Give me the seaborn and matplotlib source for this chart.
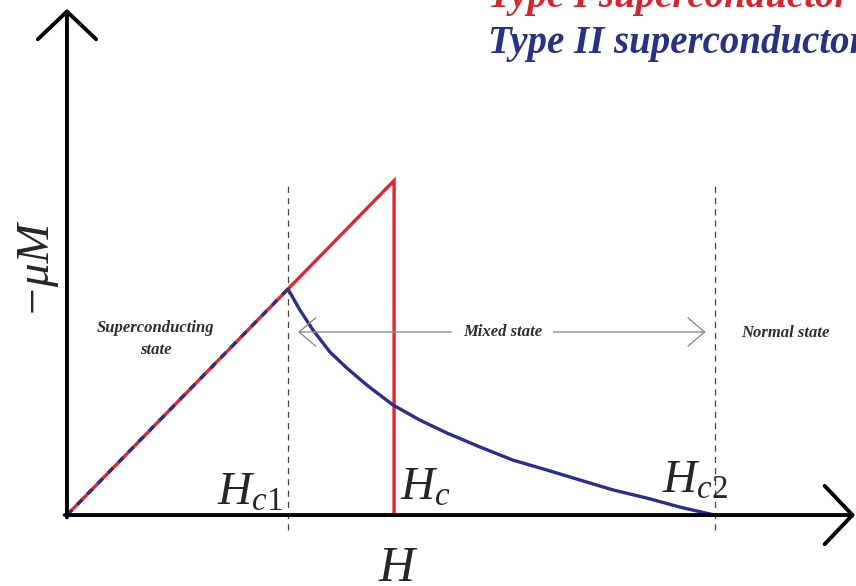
import numpy as np
import pandas as pd
import matplotlib.pyplot as plt
import seaborn as sns

# field values in units of Hc1, magnetisation -muM in units of its value at Hc1
hc1 = 1.0
hc = 1.48
hc2 = 2.93

# type I: linear rise up to Hc, then drops to zero
type1_h = [0.0, hc, hc]
type1_m = [0.0, 1.48, 0.0]

# type II: linear rise to Hc1, then decays to zero at Hc2
type2_h = [0.0, 1.0, 1.054, 1.113, 1.190, 1.267, 1.357, 1.475, 1.597, 1.719,
           1.869, 2.018, 2.172, 2.321, 2.471, 2.624, 2.774, 2.93]
type2_m = [0.0, 1.0, 0.907, 0.819, 0.721, 0.650, 0.575, 0.487, 0.420, 0.363,
           0.301, 0.243, 0.199, 0.155, 0.111, 0.075, 0.035, 0.0]

red = '#e3262d'
blue = '#2a2f8c'

sns.set_style('white')
plt.rcParams['font.family'] = ['Liberation Serif', 'DejaVu Serif']
plt.rcParams['mathtext.fontset'] = 'custom'
plt.rcParams['mathtext.it'] = 'Liberation Serif:italic'
plt.rcParams['mathtext.rm'] = 'Liberation Serif'

fig = plt.figure(figsize=(8.56, 5.86), dpi=100)
ax = fig.add_axes([0, 0, 1, 1])
ax.set_xlim(-0.303, 3.570)
ax.set_ylim(-0.314, 2.279)
ax.axis('off')

df1 = pd.DataFrame({'H': type1_h, 'M': type1_m})
df2 = pd.DataFrame({'H': type2_h, 'M': type2_m})

# type I curve (red, solid)
sns.lineplot(data=df1, x='H', y='M', sort=False, color=red, lw=2.4, ax=ax,
             estimator=None, solid_joinstyle='miter')
# type II curve (blue); the shared Meissner segment is dashed on top of red
sns.lineplot(data=df2.iloc[1:], x='H', y='M', sort=False, color=blue, lw=2.4,
             ax=ax, estimator=None, solid_joinstyle='round')
ax.plot(df2['H'][:2], df2['M'][:2], color=blue, lw=2.4, dashes=(2.2, 2.2))

# critical field guides
for xv in [hc1, hc2]:
    ax.plot([xv, xv], [-0.066, 1.46], color='#444444', lw=0.9, dashes=(5, 4))

# axes with open arrowheads
head = dict(arrowstyle='->,head_length=1.0,head_width=1.05', lw=2.8,
            color='black', mutation_scale=20, shrinkA=0, shrinkB=0)
ax.annotate('', xy=(3.566, 0), xytext=(-0.01, 0), arrowprops=head)
ax.annotate('', xy=(0, 2.24), xytext=(0, -0.01), arrowprops=head)

# mixed state double arrow
ax.annotate('', xy=(1.045, 0.81), xytext=(2.89, 0.81),
            arrowprops=dict(arrowstyle='<->,head_length=1.0,head_width=0.85',
                            lw=1.0, color='#8c8c8c', mutation_scale=12,
                            shrinkA=0, shrinkB=0))
state_kw = dict(fontsize=12, fontweight='bold', fontstyle='italic',
                color='#2e2e2e', ha='center', va='center')
ax.text(1.97, 0.81, 'Mixed state', bbox=dict(fc='white', ec='none', pad=8),
        **state_kw)
ax.text(0.40, 0.78, 'Superconducting\nstate', linespacing=1.5, **state_kw)
ax.text(3.25, 0.805, 'Normal state', **state_kw)

# field labels
ax.text(0.977, 0.044, r'$H_{c1}$', fontsize=34, ha='right', va='baseline')
ax.text(1.507, 0.066, r'$H_{c}$', fontsize=34, ha='left', va='baseline')
ax.text(2.99, 0.10, r'$H_{c2}$', fontsize=34, ha='right', va='baseline')
ax.text(1.493, -0.29, 'H', fontsize=36, fontstyle='italic', ha='center',
        va='baseline')
ax.text(-0.155, 1.11, '\u2212\u03bcM', fontsize=34, fontstyle='italic',
        rotation=90, ha='center', va='center')

# legend-like titles (cut by the figure edge as in the source)
ax.text(1.905, 2.25, 'Type I superconductor', color='#d8242b', fontsize=28,
        fontweight='bold', fontstyle='italic', va='baseline', ha='left')
ax.text(1.905, 2.044, 'Type II superconductor', color='#28318a', fontsize=28,
        fontweight='bold', fontstyle='italic', va='baseline', ha='left')

fig.savefig('out.png', dpi=100)
